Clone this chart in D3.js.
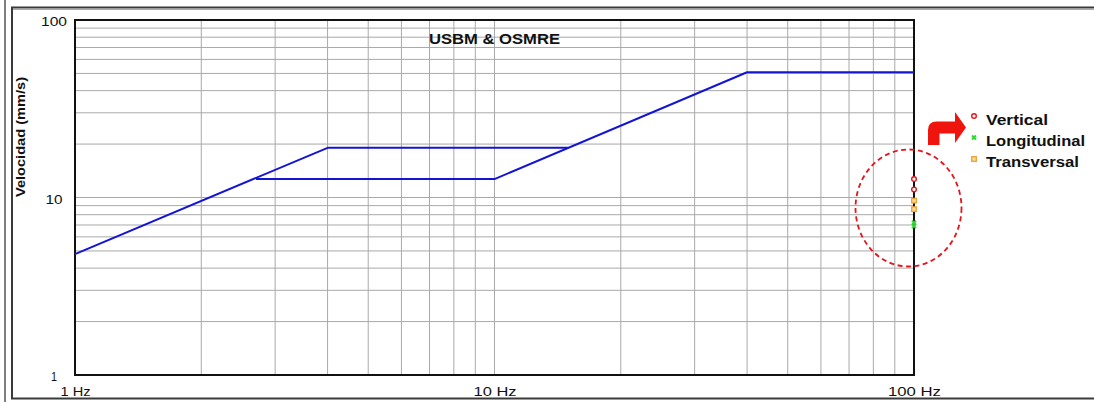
<!DOCTYPE html>
<html>
<head>
<meta charset="utf-8">
<script src="https://cdn.jsdelivr.net/npm/d3@7"></script>
<style>
  html, body { margin: 0; padding: 0; background: #fff; }
  svg { display: block; }
  text { font-family: "Liberation Sans", Arial, sans-serif; fill: #111; }
</style>
</head>
<body>
<svg id="chart" width="1094" height="402"></svg>
<script>
// Frequency / velocity axes (log-log)
const freqDomain = [1, 100];
const velDomain = [1, 100];
const freqTicks = [1, 10, 100];
const freqTickLabels = ["1 Hz", "10 Hz", "100 Hz"];
const velTicks = [1, 10, 100];
const velTickLabels = ["1", "10", "100"];

// USBM RI 8507 / OSMRE limit curves
const drywallFreq = [1, 4, 15];
const drywallVel = [4.8, 19.05, 19.05];
const plasterFreq = [2.7, 10, 40, 100];
const plasterVel = [12.7, 12.7, 50.8, 50.8];

// Measured peak particle velocities (mm/s) at the top of the frequency range
const verticalFreq = [100, 100];
const verticalVel = [12.7, 11.1];
const longitudinalFreq = [100, 100];
const longitudinalVel = [7.2, 6.9];
const transversalFreq = [100, 100];
const transversalVel = [9.6, 8.6];

const legendNames = ["Vertical", "Longitudinal", "Transversal"];
const chartTitle = "USBM & OSMRE";
const yTitle = "Velocidad (mm/s)";

const svg = d3.select("#chart");
const plotLeft = 75, plotRight = 914, plotTop = 20, plotBottom = 375;

const x = d3.scaleLog().domain(freqDomain).range([plotLeft, plotRight]);
const y = d3.scaleLog().domain(velDomain).range([plotBottom, plotTop]);

// outer frame
svg.append("line").attr("x1", 5).attr("x2", 5).attr("y1", 0).attr("y2", 402)
  .attr("stroke", "#555").attr("stroke-width", 1.5);

const g = svg.append("g");

// minor/major grid
const gridVals = [];
[1, 10].forEach(d => { for (let k = 1; k <= 9; k++) gridVals.push(d * k); });
const innerGrid = gridVals.filter(v => v > 1 && v < 100);

g.append("g").selectAll("line").data(innerGrid).join("line")
  .attr("x1", d => x(d)).attr("x2", d => x(d))
  .attr("y1", plotTop).attr("y2", plotBottom)
  .attr("stroke", "#a9a9a9").attr("stroke-width", 1);

g.append("g").selectAll("line").data(innerGrid).join("line")
  .attr("y1", d => y(d)).attr("y2", d => y(d))
  .attr("x1", plotLeft).attr("x2", plotRight)
  .attr("stroke", "#a9a9a9").attr("stroke-width", 1);

// plot border
g.append("rect").attr("x", plotLeft).attr("y", plotTop)
  .attr("width", plotRight - plotLeft).attr("height", plotBottom - plotTop)
  .attr("fill", "none").attr("stroke", "#111").attr("stroke-width", 2);

// title
g.append("text").attr("x", x(10)).attr("y", 44)
  .attr("text-anchor", "middle").attr("font-weight", "bold")
  .attr("font-size", 15).attr("textLength", 131).attr("lengthAdjust", "spacingAndGlyphs")
  .text(chartTitle);

// limit curves
const line = d3.line().x(d => x(d[0])).y(d => y(d[1]));
const curves = [
  d3.zip(drywallFreq, drywallVel),
  d3.zip(plasterFreq, plasterVel)
];
g.append("g").selectAll("path").data(curves).join("path")
  .attr("d", line).attr("fill", "none")
  .attr("stroke", "#1414d4").attr("stroke-width", 2)
  .attr("stroke-linejoin", "round");

// y axis labels
const yAxis = d3.axisLeft(y).tickValues(velTicks)
  .tickFormat((d, i) => velTickLabels[i]).tickSize(0);
const ya = g.append("g").attr("transform", `translate(${plotLeft},0)`).call(yAxis);
ya.select(".domain").remove();
ya.selectAll("text")
  .attr("x", -21).attr("dy", "0.45em")
  .attr("text-anchor", "middle")
  .attr("font-size", 13).attr("fill", "#111")
  .style("font-family", "'Liberation Sans', Arial, sans-serif")
  .each(function(d, i) {
    d3.select(this).attr("textLength", [6, 17, 26][i]).attr("lengthAdjust", "spacingAndGlyphs");
  });

// x axis labels
const xAxis = d3.axisBottom(x).tickValues(freqTicks)
  .tickFormat((d, i) => freqTickLabels[i]).tickSize(0);
const xa = g.append("g").attr("transform", `translate(0,${plotBottom})`).call(xAxis);
xa.select(".domain").remove();
xa.selectAll("text")
  .attr("y", 20.5).attr("dy", 0)
  .attr("font-size", 13).attr("fill", "#111")
  .style("font-family", "'Liberation Sans', Arial, sans-serif")
  .each(function(d, i) {
    d3.select(this).attr("textLength", [30, 43, 53][i]).attr("lengthAdjust", "spacingAndGlyphs");
  });

// y axis title
g.append("text")
  .attr("transform", "translate(25,137) rotate(-90)")
  .attr("text-anchor", "middle").attr("font-weight", "bold").attr("font-size", 13)
  .attr("textLength", 120).attr("lengthAdjust", "spacingAndGlyphs")
  .text(yTitle);

// highlight ellipse around the readings
g.append("ellipse").attr("cx", 908.5).attr("cy", 208).attr("rx", 53).attr("ry", 58.5)
  .attr("fill", "none").attr("stroke", "#e3141c").attr("stroke-width", 1.8)
  .attr("stroke-dasharray", "5,3.5");

// marker drawers
const red = "#e3141c", green = "#2ed62e", orange = "#f0a030";
function drawMarker(sel, type) {
  if (type === 0) {
    sel.append("circle").attr("r", 2.3).attr("fill", "#fff")
      .attr("stroke", red).attr("stroke-width", 1.4);
  } else if (type === 1) {
    sel.append("path").attr("d", "M-2,-2L2,2M-2,2L2,-2")
      .attr("stroke", green).attr("stroke-width", 2);
  } else {
    sel.append("rect").attr("x", -2.3).attr("y", -2.3).attr("width", 4.6).attr("height", 4.6)
      .attr("fill", "#f8d9a0").attr("stroke", orange).attr("stroke-width", 1.3);
  }
}

const readings = [
  d3.zip(verticalFreq, verticalVel),
  d3.zip(longitudinalFreq, longitudinalVel),
  d3.zip(transversalFreq, transversalVel)
];
readings.forEach((pts, t) => {
  g.append("g").selectAll("g").data(pts).join("g")
    .attr("transform", d => `translate(${x(d[0])},${y(d[1])})`)
    .each(function() { drawMarker(d3.select(this), t); });
});

// legend
const legendY = [116, 137.5, 159];
const legendBase = [125, 146, 167];
const legendLen = [62, 99, 93];
legendNames.forEach((name, i) => {
  const m = g.append("g").attr("transform", `translate(974,${legendY[i]})`);
  drawMarker(m, i);
  g.append("text").attr("x", 986).attr("y", legendBase[i])
    .attr("font-weight", "bold").attr("font-size", 14)
    .attr("textLength", legendLen[i]).attr("lengthAdjust", "spacingAndGlyphs")
    .text(name);
});

// curved pointer arrow towards the legend
g.append("path")
  .attr("d", "M928,145 L928,130 Q928,121.5 936.5,121.5 L955,121.5 L955,112 L966,127.5 L955,143 L955,133.5 L939.5,133.5 L939.5,145 Z")
  .attr("fill", "#f0140f");

// inner panel frame
svg.append("rect").attr("x", 12).attr("y", 7.5).attr("width", 1100).attr("height", 391)
  .attr("fill", "none").attr("stroke", "#3a3a3a").attr("stroke-width", 2);
svg.append("line")
  .attr("x1", 13).attr("x2", 1094).attr("y1", 9.5).attr("y2", 9.5)
  .attr("stroke", "#aaa").attr("stroke-width", 1);
</script>
</body>
</html>
